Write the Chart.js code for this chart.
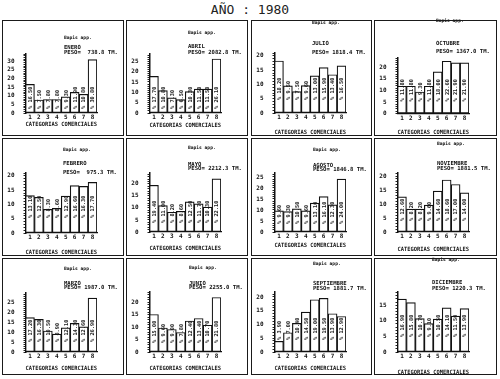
<!DOCTYPE html>
<html><head><meta charset="utf-8">
<script src="https://cdn.jsdelivr.net/npm/chart.js@4.4.1/dist/chart.umd.min.js"></script>
<style>
html,body{margin:0;padding:0;background:#fff;width:500px;height:379px;overflow:hidden;}
#wrap{position:relative;width:500px;height:379px;}
.box{position:absolute;border:1.6px solid #1a1a1a;box-sizing:border-box;}
canvas{position:absolute;}
.t{position:absolute;font-family:"DejaVu Sans Mono",monospace;font-weight:bold;color:#111;white-space:pre;line-height:1;transform:translateY(-50%);}
#title{position:absolute;left:0;width:500px;top:2px;text-align:center;font-family:"DejaVu Sans Mono",monospace;font-size:13px;line-height:15px;color:#222;}
</style></head><body><div id="wrap"><div id="title"></div></div>
<script>
// ---- data ----
const mainTitle = 'AÑO : 1980';
const note = 'Bapis app.';
const xTitle = 'CATEGORIAS COMERCIALES';
const categories = ['1','2','3','4','5','6','7','8'];
const months = ['ENERO','ABRIL','JULIO','OCTUBRE','FEBRERO','MAYO','AGOSTO','NOVIEMBRE','MARZO','JUNIO','SEPTIEMBRE','DICIEMBRE'];
const pesos = ['738.8','2082.8','1818.4','1367.0','975.3','2212.3','1846.8','1881.5','1987.0','2255.0','1881.7','1220.3'];
const enero      = [16.5, 7.5, 7.8, 7.8, 9.3, 11.9, 10.8, 30.8];
const abril      = [17.7, 10.8, 7.3, 6.5, 10.3, 11.5, 11.5, 26.1];
const julio      = [18.2, 9.5, 7.5, 9.6, 13.0, 15.9, 13.4, 16.5];
const octubre    = [11.8, 11.8, 9.3, 11.8, 18.0, 22.6, 21.9, 21.9];
const febrero    = [13.1, 12.5, 8.3, 8.6, 12.9, 16.6, 16.3, 17.7];
const mayo       = [19.4, 11.0, 8.2, 8.6, 12.5, 11.7, 10.3, 22.1];
const agosto     = [9.6, 9.3, 10.5, 9.6, 13.1, 16.1, 12.3, 24.0];
const noviembre  = [12.6, 8.2, 8.2, 9.6, 14.6, 18.6, 17.0, 14.0];
const marzo      = [17.2, 16.3, 10.5, 8.9, 12.1, 14.3, 12.6, 26.9];
const junio      = [15.0, 9.6, 9.0, 7.8, 12.4, 13.4, 10.7, 21.8];
const septiembre = [3.9, 7.0, 10.4, 14.5, 19.0, 19.5, 13.9, 12.9];
const diciembre  = [16.9, 15.8, 10.7, 9.1, 10.5, 14.1, 11.5, 13.9];
const series = [enero, abril, julio, octubre, febrero, mayo, agosto, noviembre, marzo, junio, septiembre, diciembre];
const yMax = [34, 28.5, 21, 24, 21, 24.5, 26.8, 21.1, 29.5, 24, 21.8, 19.2];

// ---- layout (positions only) ----
const colLeft = [2, 126, 251, 374], colW = [122, 122, 121, 123];
const rowTop = [20, 138, 258], rowH = [116, 118, 117];
const axisTop = [54,54,53,58, 173,173,173,173, 293,292,292,292];
const base    = [113,113,113,113.5, 233,232,232,232, 352,352,352,352];
const titleY  = [124,125,132,132, 252,248,245,249, 368,368,368,372];
const noteY   = [38,33,23,21, 150,148,150,144, 269,268,264,260];
const monthY  = [48,47,44,44, 164,165,166,164, 284,284,284,283];
const pesoY   = [53,53,53,52, 172.5,169,170,169, 288,288,289,289];
const textX   = [62,62,61,62, 61,62,62,63, 62,63,62,58];
const labelOff= [4,4,13,12, 15,9,8,11, 10,9,12,15];

document.getElementById('title').textContent = mainTitle;
const wrap = document.getElementById('wrap');
const FONT = 'DejaVu Sans Mono';

const barLabels = {
  id: 'barLabels',
  afterDatasetsDraw(chart, args, opts) {
    const ctx = chart.ctx;
    const meta = chart.getDatasetMeta(0);
    const b = chart.scales.y.getPixelForValue(0);
    ctx.save();
    ctx.font = 'bold 5.3px "' + FONT + '"';
    ctx.fillStyle = '#1a1a1a';
    ctx.textAlign = 'left';
    ctx.textBaseline = 'middle';
    meta.data.forEach((bar, j) => {
      const v = chart.data.datasets[0].data[j];
      ctx.save();
      ctx.translate(bar.x + 0.5, b - opts.off);
      ctx.rotate(-Math.PI / 2);
      ctx.fillText('% ' + v.toFixed(2), 0, 0);
      ctx.restore();
    });
    ctx.restore();
  }
};

function addText(str, x, y, size) {
  const d = document.createElement('div');
  d.className = 't';
  d.style.left = x + 'px';
  d.style.top = y + 'px';
  d.style.fontSize = size + 'px';
  d.textContent = str;
  wrap.appendChild(d);
}

for (let i = 0; i < 12; i++) {
  const r = Math.floor(i / 4), c = i % 4;
  const L = colLeft[c], T = rowTop[r], W = colW[c], H = 120;
  const cv = document.createElement('canvas');
  cv.width = W; cv.height = H;
  cv.style.left = L + 'px'; cv.style.top = T + 'px';
  cv.style.width = W + 'px'; cv.style.height = H + 'px';
  wrap.appendChild(cv);

  const titleSize = 5.9;
  const xH = (titleY[i] - base[i]) + titleSize * 1.2 / 2;
  const padTop = axisTop[i] - T;
  const padBottom = H - (base[i] - T) - xH;
  const ym = yMax[i];

  new Chart(cv, {
    type: 'bar',
    data: {
      labels: categories,
      datasets: [{
        data: series[i],
        backgroundColor: '#fff',
        borderColor: '#111',
        borderWidth: 1.2,
        borderSkipped: false,
        barPercentage: 1,
        categoryPercentage: 1
      }]
    },
    options: {
      responsive: false,
      animation: false,
      devicePixelRatio: 1,
      layout: { padding: { top: padTop, bottom: padBottom, left: 0, right: W - 95 } },
      plugins: { legend: { display: false }, tooltip: { enabled: false }, barLabels: { off: labelOff[i] } },
      scales: {
        x: {
          grid: { display: true, drawOnChartArea: false, drawTicks: false, color: '#111' },
          border: { display: true, color: '#111', width: 1.3 },
          ticks: { padding: 1, color: '#111', maxRotation: 0, minRotation: 0, autoSkip: false,
                   font: { family: FONT, size: 6, weight: 'bold' } },
          title: { display: true, text: xTitle, color: '#111', padding: { top: 0, bottom: 0 },
                   font: { family: FONT, size: titleSize, weight: 'bold' } },
          afterFit(s) { s.height = xH; }
        },
        y: {
          min: 0, max: ym,
          grid: { display: true, drawOnChartArea: false, tickLength: 2, color: '#222' },
          border: { display: true, color: '#111', width: 1.5 },
          ticks: { autoSkip: false, padding: 9, color: '#111',
                   font: { family: FONT, size: 6, weight: 'bold' },
                   callback: v => (v % 5 === 0 ? String(v) : '') },
          afterBuildTicks(s) {
            const t = [];
            for (let k = 0; k <= Math.floor(ym); k++) t.push({ value: k });
            s.ticks = t;
          },
          afterFit(s) { s.width = 23.5; }
        }
      }
    },
    plugins: [barLabels]
  });

  addText(note, L + textX[i], noteY[i], 4.6);
  addText(months[i], L + textX[i], monthY[i], 5.6);
  addText('PESO= ' + pesos[i].padStart(6, ' ') + ' TM.', L + textX[i], pesoY[i], 5.6);

  const bx = document.createElement('div');
  bx.className = 'box';
  bx.style.left = L + 'px'; bx.style.top = T + 'px';
  bx.style.width = W + 'px'; bx.style.height = rowH[r] + 'px';
  wrap.appendChild(bx);
}
</script></body></html>
